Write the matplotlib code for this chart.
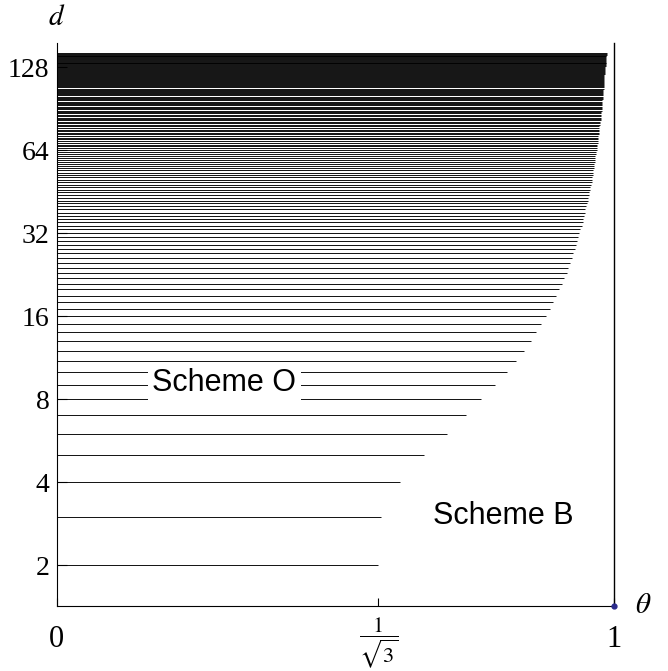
import matplotlib
matplotlib.use('Agg')
import matplotlib.pyplot as plt

# dimensions d drawn as horizontal lines, and where each one ends on the theta axis
D_VALUES = list(range(2, 145))
THETA_END = [
    0.577, 0.583, 0.617, 0.660, 0.700, 0.734,
    0.762, 0.787, 0.808, 0.825, 0.839, 0.851, 0.861, 0.870, 0.878, 0.885,
    0.891, 0.897, 0.902, 0.907, 0.911, 0.915, 0.918, 0.921, 0.924, 0.927,
    0.930, 0.932, 0.934, 0.936, 0.938, 0.940, 0.942, 0.944, 0.945, 0.947,
    0.948, 0.949, 0.950, 0.952, 0.953, 0.954, 0.955, 0.956, 0.957, 0.958,
    0.959, 0.960, 0.960, 0.961, 0.962, 0.963, 0.963, 0.964, 0.965, 0.965,
    0.966, 0.966, 0.967, 0.967, 0.968, 0.968, 0.969, 0.969, 0.970, 0.970,
    0.971, 0.971, 0.972, 0.972, 0.972, 0.973, 0.973, 0.973, 0.974, 0.974,
    0.974, 0.975, 0.975, 0.975, 0.976, 0.976, 0.976, 0.977, 0.977, 0.977,
    0.977, 0.978, 0.978, 0.978, 0.978, 0.979, 0.979, 0.979, 0.979, 0.979,
    0.980, 0.980, 0.980, 0.980, 0.981, 0.981, 0.981, 0.981, 0.981, 0.982,
    0.982, 0.982, 0.982, 0.982, 0.982, 0.982, 0.983, 0.983, 0.983, 0.983,
    0.983, 0.983, 0.983, 0.984, 0.984, 0.984, 0.984, 0.984, 0.984, 0.984,
    0.984, 0.985, 0.985, 0.985, 0.985, 0.985, 0.985, 0.985, 0.985, 0.985,
    0.986, 0.986, 0.986, 0.986, 0.987, 0.987, 0.987,
]

Y_TICKS = [2, 4, 8, 16, 32, 64, 128]
Y_LIM = (1.424, 157)
X_TICK_POS = [0, 3 ** -0.5, 1]
X_TICK_TEXT = ['0', r'$\dfrac{1}{\sqrt{3}}$', '1']

plt.rcParams['mathtext.fontset'] = 'stix'
serif = 'Liberation Serif'
sans = 'Liberation Sans'

fig = plt.figure(figsize=(6.68, 6.71), dpi=100)
ax = fig.add_axes([0.0846, 0.0973, 0.919 - 0.0846, 0.9364 - 0.0973])

ax.hlines(D_VALUES, 0, THETA_END, colors='black', linewidth=0.65)
ax.axvline(1, color='black', linewidth=1.0, clip_on=False)
ax.plot([1], [Y_LIM[0]], 'o', color='#2b2b8c', markersize=3.5, clip_on=False, zorder=6)

ax.set_yscale('log', base=2)
ax.set_ylim(*Y_LIM)
ax.set_xlim(0, 1)
ax.set_yticks(Y_TICKS)
ax.set_yticklabels([str(t) for t in Y_TICKS], fontfamily=serif, fontsize=20)
ax.minorticks_off()
ax.tick_params(axis='y', direction='in', length=7, width=0.8, pad=5)

ax.set_xticks(X_TICK_POS)
ax.set_xticklabels([])
ax.tick_params(axis='x', direction='in', length=6, width=0.8)
for x, lab in zip(X_TICK_POS, X_TICK_TEXT):
    if lab.startswith('$'):
        ax.text(x, -0.017, lab, transform=ax.get_xaxis_transform(),
                ha='center', va='top', fontsize=16)
    else:
        ax.text(x, -0.035, lab, transform=ax.get_xaxis_transform(),
                ha='center', va='top', fontsize=22, fontfamily=serif)

for side in ['top', 'right']:
    ax.spines[side].set_visible(False)
for side in ['left', 'bottom']:
    ax.spines[side].set_linewidth(0.8)

ax.text(0.0, 1.045, r'$d$', transform=ax.transAxes, ha='center', va='center', fontsize=21)
ax.text(1.053, 0.002, r'$\theta$', transform=ax.transAxes, ha='center', va='center', fontsize=21)

ax.text(0.301, 9.15, 'Scheme O', ha='center', va='center', fontsize=22, fontfamily=sans,
        bbox=dict(facecolor='white', edgecolor='none', pad=3), zorder=5)
ax.text(0.801, 3.01, 'Scheme B', ha='center', va='center', fontsize=22, fontfamily=sans)

fig.savefig('out.png', dpi=100)
